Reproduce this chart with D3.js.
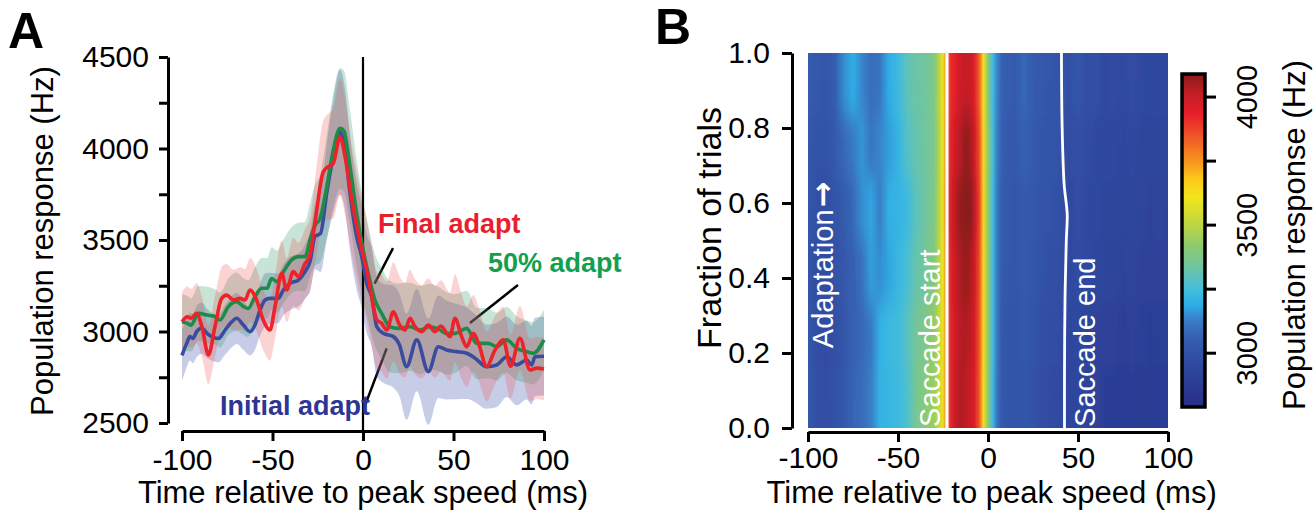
<!DOCTYPE html>
<html>
<head>
<meta charset="utf-8">
<script src="https://cdn.jsdelivr.net/npm/d3@7"></script>
<style>
  body { margin: 0; background: #fff; }
  svg { display: block; }
</style>
</head>
<body>
<svg id="fig" width="1316" height="520"></svg>
<script>
// ---- panel A: population response, three adaptation stages ----
const initialT = [-100,-97.4,-95.6,-94,-91.9,-89.1,-86.3,-83.6,-79.9,-76.2,-72.5,-69.8,-66.1,-62.4,-59.7,-56.9,-54.1,-51.4,-46.8,-44,-40.3,-35.7,-32,-29.3,-26.5,-23.5,-20,-16.4,-12.7,-10,-7.2,-3.5,-0.7,2,4.8,7.6,11.2,16.8,20,24.1,29.7,36.1,41.6,46.2,51.8,57.3,61.9,68.3,73.9,79.4,84.9,90.4,93.2,95,100]
const initialV = [2870,2935,2972,2962,2999,3019,2991,2972,2962,3008,3053,3072,3035,2999,3035,3117,3172,3181,3181,3227,3263,3281,3327,3381,3520,3535,3760,3960,4090,4000,3755,3518,3409,3263,3190,3026,2990,2972,2930,2808,2954,2781,2917,2899,2890,2881,2854,2808,2817,2862,2817,2844,2817,2862,2865]
const initialSem = [140,130,130,135,140,140,135,130,130,135,140,140,135,130,135,140,145,140,135,140,145,145,150,160,180,210,260,310,340,330,310,290,280,270,270,270,270,280,280,290,280,290,280,270,260,250,240,230,230,220,220,215,215,215,215]

const halfT = [-100,-97,-95,-91,-86,-81.8,-79,-74.4,-69.8,-66,-63.4,-59.7,-56,-53,-50.5,-47.7,-44,-39.4,-35.7,-32,-29.3,-26.5,-23.8,-20,-16.4,-12.7,-10.5,-7.2,-3.5,0,2.9,6.6,10.3,14.9,19.5,26,31.5,37,41,46.2,51,57.3,62.8,69.2,73.9,79.4,84.9,90.4,94.1,100]
const halfV = [3053,3044,3035,3099,3090,3081,3063,3136,3163,3136,3126,3190,3236,3236,3290,3272,3327,3391,3409,3409,3500,3580,3615,3791,3992,4110,4095,3901,3646,3450,3318,3172,3099,3026,3017,3026,3008,3026,3017,2990,2990,3017,2935,2935,2917,2954,2908,2890,2881,2954]
const halfSem = [150,150,145,150,155,150,150,155,160,155,155,160,165,165,170,170,175,180,185,190,200,220,240,280,310,330,330,310,290,270,260,250,250,250,245,240,240,235,230,225,215,205,195,190,185,180,175,170,170,165]

const finalT = [-100,-97,-95,-91.9,-89,-85.4,-81.8,-78.1,-75.3,-71.6,-67.9,-65.2,-62.4,-58.8,-55.1,-51.4,-48.6,-44.9,-42.2,-38.5,-35.7,-32,-29.3,-26.5,-21.9,-19.1,-16.4,-12.7,-9.9,-6.2,-2.6,0,2,4.8,7.6,10.3,13.1,16.8,20,23.2,26,28.5,32.4,36.1,39.8,43,48.1,50.8,54.5,57.3,61,64,68.3,73,77.5,81.5,86.7,92.3,96,100]
const finalV = [3053,3081,3072,3099,3026,2872,3026,3181,3199,3172,3181,3172,3227,3172,3063,3008,3136,3318,3227,3327,3300,3372,3418,3600,3873,3901,3919,4064,3955,3719,3536,3420,3340,3190,3063,3045,3008,3108,3040,3008,3072,3030,2999,3035,2999,3030,2972,3072,2972,2917,2990,2930,2808,2900,2954,2810,2963,2790,2800,2795]
const finalSem = [160,165,160,165,165,160,165,170,170,165,170,170,175,170,165,165,175,180,175,185,185,190,200,230,280,290,300,320,320,300,290,280,275,270,265,265,265,270,265,260,265,260,255,255,250,250,240,240,230,220,210,200,190,185,180,175,175,170,170,170]

const xTicksA = [-100, -50, 0, 50, 100]
const yTicksA = [2500, 2750, 3000, 3250, 3500, 3750, 4000, 4250, 4500]
const yLabelsA = [2500, 3000, 3500, 4000, 4500]

// label pointers, in (ms, Hz)
const pointerFinal = [[16.6, 3456], [6.4, 3262]]
const pointerHalf = [[85.6, 3254], [59.1, 3046]]
const pointerInitial = [[13.1, 2908], [1.2, 2598]]

// ---- panel B: heat map over the course of adaptation ----
const heatTimes = [-100,-95,-90,-85,-80,-75,-70,-65,-60,-55,-50,-45,-40,-35,-30,
  -27.5,-25,-22.5,-20,-17.5,-15,-12.5,-10,-7.5,-5,-2.5,0,2.5,5,7.5,10,
  15,20,25,30,35,40,45,50,55,60,65,70,75,80,85,90,95,100]
const heatRowEdges = [1, 0.833, 0.667, 0.5, 0.333, 0.167, 0]
const heatRows = [
  [3050,3030,3020,3050,3150,3190,3140,3090,3110,3190,3230,3300,3330,3340,3380,
   3480,3620,3850,3920,3960,3990,4010,4000,3950,3840,3620,3400,3250,3140,3070,3050,
   3040,3080,3040,3030,3020,3010,2990,3020,2980,2990,2960,2970,2960,2980,2950,2960,2950,2950],
  [3030,3000,3000,3040,3080,3120,3160,3110,3140,3170,3210,3280,3320,3340,3370,
   3470,3610,3880,3950,4000,4040,4080,4060,3990,3870,3640,3420,3260,3130,3060,3040,
   3030,3060,3040,3020,3010,3000,2970,2990,2970,2960,2950,2950,2940,2950,2940,2930,2940,2930],
  [3020,2990,2980,3010,3040,3080,3150,3180,3130,3200,3210,3230,3300,3340,3380,
   3480,3620,3900,3980,4040,4080,4120,4100,4020,3890,3650,3420,3250,3120,3050,3030,
   3020,3040,3030,3010,3000,2990,2960,2980,2960,2950,2940,2940,2930,2940,2930,2920,2930,2920],
  [3010,2980,2970,3000,3030,3060,3100,3170,3150,3180,3220,3260,3320,3350,3390,
   3480,3610,3880,3960,4010,4050,4070,4050,3990,3870,3640,3420,3250,3120,3050,3030,
   3020,3040,3020,3000,2990,2980,2950,2970,2950,2940,2930,2930,2920,2930,2920,2910,2920,2910],
  [3020,2980,2970,2990,3020,3060,3080,3120,3200,3230,3240,3290,3350,3380,3420,
   3500,3620,3870,3950,4000,4030,4040,4020,3970,3860,3640,3420,3250,3120,3040,3020,
   3010,3030,3010,2990,2980,2970,2940,2950,2930,2920,2910,2910,2900,2910,2900,2890,2900,2900],
  [3030,2990,2980,3000,3030,3070,3090,3130,3210,3220,3230,3270,3360,3400,3440,
   3510,3630,3870,3950,4010,4040,4020,4000,3960,3850,3630,3410,3240,3110,3040,3020,
   3010,3020,3000,2980,2970,2960,2930,2940,2920,2910,2890,2890,2880,2890,2880,2880,2890,2890]
]
const saccStartFrac = [1, 0]
const saccStartT = [-22.8, -22.8]
const saccEndFrac = [1, 0.8, 0.65, 0.57, 0.5, 0.35, 0.15, 0]
const saccEndT = [40.8, 41.2, 42.3, 44.0, 43.5, 42.8, 42.5, 42.5]

const xTicksB = [-100, -50, 0, 50, 100]
const yTicksB = [0, 0.2, 0.4, 0.6, 0.8, 1.0]
const cbTicks = [3000, 3250, 3500, 3750, 4000]
const cbLabels = [3000, 3500, 4000]

const cmapValues = [2790,2870,2960,3050,3130,3190,3250,3330,3420,3520,3610,3680,3750,3840,3930,4010,4090]
const cmapColors = ['#282f86','#2b3b93','#2f4aa0','#355cae','#3a7dc6','#2eaee6','#44bedc','#6cc4a6','#8fca6c','#c6d93a','#f2e51c','#fbc91b','#f7941d','#f05a28','#e8202a','#c41e26','#8b1a1a']

const FONT = '"Liberation Sans", Arial, Helvetica, sans-serif'
const svg = d3.select('#fig')
const defs = svg.append('defs')

// plain hyphen for negatives, like the original figure
const plain = d => String(d)

const styleAxis = (g, size) => {
  g.attr('font-family', FONT).attr('font-size', size)
  g.select('.domain').attr('stroke', '#000').attr('stroke-width', 3)
  g.selectAll('.tick line').attr('stroke', '#000').attr('stroke-width', 3)
  g.selectAll('.tick text').attr('fill', '#000')
}

// ================= panel A =================
const xA = d3.scaleLinear().domain([-100, 100]).range([182, 544])
const yA = d3.scaleLinear().domain([2500, 4500]).range([423, 57])

const zip = (T, V, S) => T.map((t, i) => ({ t, v: V[i], s: S[i] }))
const groups = [
  { name: 'initial', data: zip(initialT, initialV, initialSem), line: '#3a4c9f', band: 'rgba(70,90,175,0.30)' },
  { name: 'half', data: zip(halfT, halfV, halfSem), line: '#1d8c48', band: 'rgba(40,150,95,0.26)' },
  { name: 'final', data: zip(finalT, finalV, finalSem), line: '#ee2229', band: 'rgba(238,70,70,0.24)' }
]

const gA = svg.append('g')

// pointer lines sit under the shaded bands
const pline = d3.line().x(d => xA(d[0])).y(d => yA(d[1]))
;[pointerFinal, pointerHalf, pointerInitial].forEach(p => {
  gA.append('path').attr('d', pline(p)).attr('stroke', '#000').attr('stroke-width', 2.5).attr('fill', 'none')
})

const area = d3.area()
  .curve(d3.curveMonotoneX)
  .x(d => xA(d.t))
  .y0(d => yA(d.v - d.s))
  .y1(d => yA(d.v + d.s))

groups.forEach(g => {
  gA.append('path').attr('d', area(g.data)).attr('fill', g.band)
})

gA.append('line')
  .attr('x1', xA(0)).attr('x2', xA(0))
  .attr('y1', yA(4500)).attr('y2', 432)
  .attr('stroke', '#000').attr('stroke-width', 2.2)

const line = d3.line().curve(d3.curveMonotoneX).x(d => xA(d.t)).y(d => yA(d.v))
groups.forEach(g => {
  gA.append('path').attr('d', line(g.data))
    .attr('fill', 'none').attr('stroke', g.line).attr('stroke-width', 3.6)
    .attr('stroke-linejoin', 'round')
})

gA.append('g')
  .attr('transform', `translate(168,0)`)
  .call(d3.axisLeft(yA).tickValues(yTicksA).tickSize(9).tickSizeOuter(0).tickPadding(10)
    .tickFormat(d => yLabelsA.includes(d) ? d : ''))
  .call(g => styleAxis(g, 30))

gA.append('g')
  .attr('transform', `translate(0,431)`)
  .call(d3.axisBottom(xA).tickValues(xTicksA).tickSize(10).tickSizeOuter(0).tickPadding(8).tickFormat(plain))
  .call(g => styleAxis(g, 30))

gA.append('text')
  .attr('transform', 'translate(53,241) rotate(-90)')
  .attr('text-anchor', 'middle').attr('font-family', FONT).attr('font-size', 31)
  .text('Population response (Hz)')

gA.append('text')
  .attr('x', xA(0)).attr('y', 503)
  .attr('text-anchor', 'middle').attr('font-family', FONT).attr('font-size', 31)
  .text('Time relative to peak speed (ms)')

const label = (txt, x, y, color) => gA.append('text')
  .attr('x', x).attr('y', y).attr('fill', color)
  .attr('font-family', FONT).attr('font-size', 27).attr('font-weight', 'bold')
  .text(txt)
label('Final adapt', 378, 233, '#e8202e')
label('50% adapt', 488, 272, '#13a04e')
label('Initial adapt', 220, 415, '#2e3592')

svg.append('text').attr('x', 8).attr('y', 48)
  .attr('font-family', FONT).attr('font-size', 50).attr('font-weight', 'bold').text('A')

// ================= panel B =================
const xB = d3.scaleLinear().domain([-100, 100]).range([808, 1168])
const yB = d3.scaleLinear().domain([0, 1]).range([428, 53])
const color = d3.scaleLinear().domain(cmapValues).range(cmapColors).clamp(true)

const gB = svg.append('g')

defs.append('clipPath').attr('id', 'heatClip')
  .append('rect')
  .attr('x', xB(-100)).attr('y', yB(1))
  .attr('width', xB(100) - xB(-100)).attr('height', yB(0) - yB(1))

const blur = defs.append('filter').attr('id', 'vblur')
  .attr('x', -0.05).attr('y', -0.3).attr('width', 1.1).attr('height', 1.6)
blur.append('feGaussianBlur').attr('stdDeviation', '0.6 13')

const span = xB(100) - xB(-100)
heatRows.forEach((row, i) => {
  const grad = defs.append('linearGradient').attr('id', `row${i}`)
    .attr('gradientUnits', 'userSpaceOnUse')
    .attr('x1', xB(-100)).attr('x2', xB(100)).attr('y1', 0).attr('y2', 0)
  heatTimes.forEach((t, j) => {
    grad.append('stop')
      .attr('offset', (xB(t) - xB(-100)) / span)
      .attr('stop-color', color(row[j]))
  })
})

const heat = gB.append('g').attr('clip-path', 'url(#heatClip)')
  .append('g').attr('filter', 'url(#vblur)')
heat.selectAll('rect').data(heatRows).join('rect')
  .attr('x', xB(-100) - 2)
  .attr('width', span + 4)
  .attr('y', (d, i) => yB(heatRowEdges[i]) - (i === 0 ? 40 : 0))
  .attr('height', (d, i) => yB(heatRowEdges[i + 1]) - yB(heatRowEdges[i]) + (i === 0 || i === heatRows.length - 1 ? 40 : 0) + 0.5)
  .attr('fill', (d, i) => `url(#row${i})`)

const sline = d3.line().curve(d3.curveCatmullRom).x(d => xB(d[0])).y(d => yB(d[1]))
gB.append('path').attr('d', sline(saccStartT.map((t, i) => [t, saccStartFrac[i]])))
  .attr('fill', 'none').attr('stroke', '#fff').attr('stroke-width', 3.2)
gB.append('path').attr('d', sline(saccEndT.map((t, i) => [t, saccEndFrac[i]])))
  .attr('fill', 'none').attr('stroke', '#fff').attr('stroke-width', 2.8)

const vtext = (txt, x, y) => gB.append('text')
  .attr('transform', `translate(${x},${y}) rotate(-90)`)
  .attr('fill', '#fff').attr('font-family', FONT).attr('font-size', 29)
  .text(txt)
const adapt = vtext('Adaptation', xB(-86), yB(0.213))
adapt.append('tspan').attr('font-family', '"DejaVu Sans", sans-serif').attr('font-weight', 'bold')
  .attr('font-size', 31).attr('dx', 2).text('\u2192')
vtext('Saccade start', xB(-26.7), yB(0.003))
vtext('Saccade end', xB(59.4), yB(0.003))

gB.append('g')
  .attr('transform', 'translate(792,0)')
  .call(d3.axisLeft(yB).tickValues(yTicksB).tickSize(10).tickSizeOuter(0).tickPadding(12)
    .tickFormat(d3.format('.1f')))
  .call(g => styleAxis(g, 30))

gB.append('g')
  .attr('transform', 'translate(0,432)')
  .call(d3.axisBottom(xB).tickValues(xTicksB).tickSize(10).tickSizeOuter(0).tickPadding(5).tickFormat(plain))
  .call(g => styleAxis(g, 30))

gB.append('text')
  .attr('transform', 'translate(721,228) rotate(-90)')
  .attr('text-anchor', 'middle').attr('font-family', FONT).attr('font-size', 34)
  .text('Fraction of trials')

gB.append('text')
  .attr('x', xB(2)).attr('y', 503)
  .attr('text-anchor', 'middle').attr('font-family', FONT).attr('font-size', 31)
  .text('Time relative to peak speed (ms)')

svg.append('text').attr('x', 655).attr('y', 44)
  .attr('font-family', FONT).attr('font-size', 50).attr('font-weight', 'bold').text('B')

// colour bar
const yC = d3.scaleLinear().domain([2790, 4090]).range([407, 74])
const cbGrad = defs.append('linearGradient').attr('id', 'cbGrad')
  .attr('gradientUnits', 'userSpaceOnUse')
  .attr('x1', 0).attr('x2', 0).attr('y1', yC(2790)).attr('y2', yC(4090))
cmapValues.forEach((v, i) => {
  cbGrad.append('stop').attr('offset', (v - 2790) / (4090 - 2790)).attr('stop-color', cmapColors[i])
})

gB.append('rect')
  .attr('x', 1182).attr('y', yC(4090)).attr('width', 23).attr('height', yC(2790) - yC(4090))
  .attr('fill', 'url(#cbGrad)').attr('stroke', '#000').attr('stroke-width', 3.5)

gB.selectAll('.cbtick').data(cbTicks).join('line')
  .attr('class', 'cbtick')
  .attr('x1', 1205).attr('x2', 1216)
  .attr('y1', d => yC(d)).attr('y2', d => yC(d))
  .attr('stroke', '#000').attr('stroke-width', 3)

gB.selectAll('.cblabel').data(cbLabels).join('text')
  .attr('class', 'cblabel')
  .attr('transform', d => `translate(1257,${yC(d)}) rotate(-90)`)
  .attr('text-anchor', 'middle').attr('font-family', FONT).attr('font-size', 29)
  .text(d => d)

gB.append('text')
  .attr('transform', 'translate(1305,235) rotate(-90)')
  .attr('text-anchor', 'middle').attr('font-family', FONT).attr('font-size', 31)
  .text('Population response (Hz)')
</script>
</body>
</html>
